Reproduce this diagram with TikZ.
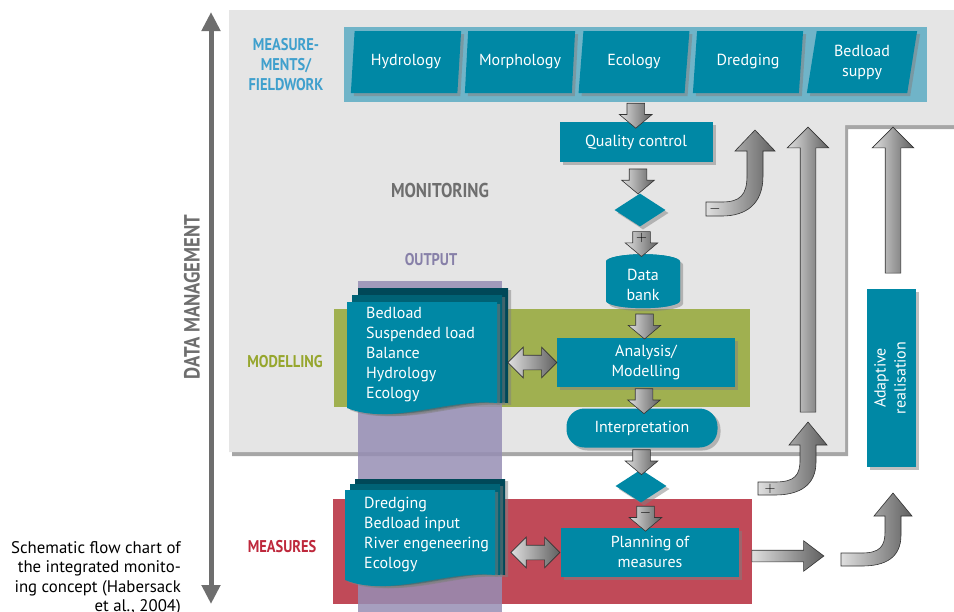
\documentclass[tikz,border=0pt]{standalone}
\usepackage{fontspec}
\setmainfont{PT Sans}
\newfontfamily\headfont{PT Sans}[FakeStretch=0.85]
\usetikzlibrary{shapes.geometric,shapes.arrows,shadows,arrows.meta,calc}

\definecolor{tealbox}{RGB}{0,136,165}
\definecolor{tealband}{RGB}{112,180,200}
\definecolor{panelgray}{RGB}{229,229,229}
\definecolor{greenband}{RGB}{160,176,80}
\definecolor{redband}{RGB}{192,74,88}
\definecolor{purplecol}{RGB}{150,142,180}
\definecolor{fieldblue}{RGB}{64,160,205}
\definecolor{modelgreen}{RGB}{150,166,45}
\definecolor{measred}{RGB}{190,40,60}
\definecolor{outpurple}{RGB}{135,128,168}
\definecolor{dmgray}{RGB}{110,110,110}
\definecolor{pagemid}{RGB}{0,98,117}
\definecolor{pageback}{RGB}{0,72,88}

\tikzset{
  box/.style={fill=tealbox, text=white, font=\fontsize{16}{20}\selectfont, align=center,
    inner sep=0pt, drop shadow={shadow xshift=3pt, shadow yshift=-3pt, opacity=0.5}},
  fieldbox/.style={box, trapezium, trapezium left angle=80, trapezium right angle=100,
    trapezium stretches=true, minimum width=111pt, minimum height=62pt},
  decide/.style={box, diamond, minimum width=51pt, minimum height=33pt},
  lbl/.style={font=\headfont\bfseries\fontsize{17}{20}\selectfont, align=center},
  blockarr/.style={draw=black!80, line width=0.6pt, left color=gray!25, right color=gray!75!black},
  downarr/.style={blockarr, single arrow, shape border rotate=270, inner sep=8.5pt,
    minimum height=22pt, single arrow head extend=7.5pt, single arrow tip angle=100},
  uparr/.style={blockarr, single arrow, shape border rotate=90, inner sep=7.5pt,
    single arrow head extend=13pt},
  botharr/.style={blockarr, double arrow, inner sep=7pt, minimum height=49pt,
    double arrow head extend=8pt},
  pagetext/.style={text=white, font=\fontsize{16}{20}\selectfont, align=left, inner sep=0pt},
  sign/.style={font=\fontsize{15}{15}\selectfont, inner sep=0pt}
}

% one page of a stack: colour, left, top, height
\newcommand{\docpage}[4]{%
  \fill[#1, drop shadow={shadow xshift=3pt, shadow yshift=-2pt, opacity=0.5}]
    (#2,#3) -- (#2+150,#3) -- (#2+150,#3+#4-5)
    .. controls (#2+100,#3+#4-10) and (#2+45,#3+#4+18) .. (#2,#3+#4) -- cycle;}

\begin{document}
\begin{tikzpicture}[x=1pt, y=-1pt]
    \useasboundingbox (0,0) rectangle (954,611);
    \clip (0,0) rectangle (954,611);

    % Background panels
    \fill[panelgray, drop shadow={shadow xshift=3pt, shadow yshift=-4pt, opacity=0.7}]
      (229,10) -- (954,10) -- (954,125) -- (845,125) -- (845,452) -- (229,452) -- cycle;
    \node[fill=tealband, minimum width=583pt, minimum height=75pt, inner sep=0pt] (band) at (635.5,64.5) {};
    \node[fill=greenband, minimum width=416pt, minimum height=98pt, inner sep=0pt] (green) at (542,358) {};
    \node[fill=redband, minimum width=419pt, minimum height=105pt, inner sep=0pt] (red) at (542.5,551.5) {};
    \fill[purplecol, opacity=0.85] (358,281) rectangle (502,620);

    % Data management
    \coordinate (dmtop) at (211,12);
    \coordinate (dmbot) at (211,604);
    \draw[dmgray, line width=5pt, {Triangle[length=19pt,width=18pt]}-{Triangle[length=19pt,width=18pt]}] (dmtop) -- (dmbot);
    \node[lbl, text=dmgray, rotate=90, font=\headfont\bfseries\fontsize{22}{24}\selectfont] (dmlbl) at (192,297) {DATA MANAGEMENT};

    % Caption
    \node[anchor=north east, align=right, inner sep=0pt, font=\fontsize{16.8}{19.5}\selectfont] (caption) at (181,541)
      {Schematic flow chart of\\the integrated monito-\\ing concept (Habersack\\et al., 2004)};

    % Labels
    \node[lbl, text=fieldblue] (fieldlbl) at (286,65) {MEASURE-\\MENTS/\\FIELDWORK};
    \node[lbl, text=dmgray, font=\headfont\bfseries\fontsize{20}{20}\selectfont] (monlbl) at (440,190) {MONITORING};
    \node[lbl, text=outpurple] (outlbl) at (431,260) {OUTPUT};
    \node[lbl, text=modelgreen] (modlbl) at (285,362) {MODELLING};
    \node[lbl, text=measred] (measlbl) at (282,547) {MEASURES};

    % Measurements
    \node[fieldbox] (hydro) at (406,62) {Hydrology};
    \node[fieldbox] (morph) at (520,62) {Morphology};
    \node[fieldbox] (eco) at (634,62) {Ecology};
    \node[fieldbox] (dredge) at (748,62) {Dredging};
    \node[fieldbox] (supply) at (862,62) {Bedload\\suppy};

    % Output pages
    \docpage{pageback}{358}{288}{120}
    \docpage{pagemid}{352}{295}{113}
    \docpage{tealbox}{347}{302}{106}
    \node[pagetext, anchor=west] (out) at (366,355) {Bedload\\Suspended load\\Balance\\Hydrology\\Ecology};
    \coordinate (outedge) at (508,363);

    \docpage{pageback}{355}{479}{101}
    \docpage{pagemid}{350}{484}{96}
    \docpage{tealbox}{345}{490}{90}
    \node[pagetext, anchor=west] (meas) at (364,535) {Dredging\\Bedload input\\River engeneering\\Ecology};
    \coordinate (measedge) at (510,553);

    % Flow
    \node[box, minimum width=153pt, minimum height=40pt] (qc) at (636,142) {Quality control};
    \node[decide] (dia1) at (640,210) {};
    \node[box, cylinder, shape border rotate=90, aspect=0.45, minimum width=74pt, minimum height=50pt,
      cylinder uses custom fill, cylinder body fill=tealbox, cylinder end fill=tealbox!88!black] (bank) at (643,285) {Data\\bank};
    \node[box, minimum width=178pt, minimum height=49pt] (ana) at (646,362) {Analysis/\\Modelling};
    \node[box, rounded corners=18pt, minimum width=151pt, minimum height=39pt] (interp) at (642,428) {Interpretation};
    \node[decide] (dia2) at (641,486) {};
    \node[box, minimum width=178pt, minimum height=49pt] (plan) at (650,552) {Planning of\\measures};
    \node[box, minimum width=49pt, minimum height=178pt] (adapt) at (891.5,378)
      {\rotatebox{90}{\begin{tabular}{@{}c@{}}Adaptive\\realisation\end{tabular}}};

    % Flow arrows
    \node[downarr] (a1) at ($(band.south)!0.5!(qc.north)$) {};
    \node[downarr] (a2) at ($(qc.south)!0.5!(dia1.north)$) {};
    \node[downarr] (a3) at ($(dia1.south)!0.5!(bank.north)$) {};
    \node[downarr] (a4) at ($(bank.south)!0.5!(ana.north)$) {};
    \node[downarr] (a5) at ($(ana.south)!0.5!(interp.north)$) {};
    \node[downarr] (a6) at ($(interp.south)!0.5!(dia2.north)$) {};
    \node[downarr] (a7) at ($(dia2.south)!0.5!(plan.north)$) {};
    \node[sign] at ($(a3)+(0,-2)$) {$+$};
    \node[sign] at ($(a7)+(0,-2)$) {$-$};

    \node[botharr] (b1) at ($(outedge)!0.5!(ana.west)$) {};
    \node[botharr] (b2) at ($(measedge)!0.5!(plan.west)$) {};

    % Feedback arrows
    \node[uparr, minimum height=285pt] (up1) at (808,273.5) {};
    \node[uparr, minimum height=146pt] (up2) at (893,204) {};
    \node[blockarr, single arrow, inner sep=5.5pt, minimum height=72pt,
      single arrow head extend=9.5pt, single arrow tip angle=74] (toright) at (784,556) {};

    \path[blockarr] (706,202) -- (722,202) .. controls (740,202) and (747,195) .. (747,176)
      -- (747,151) -- (735,151) -- (755,130) -- (775,151) -- (763,151) -- (763,176)
      .. controls (763,205) and (745,216) .. (722,216) -- (706,216) -- cycle;
    \node[sign] at (715,209) {$-$};

    \path[blockarr] (758,482) -- (775,482) .. controls (795,482) and (800,475) .. (800,460)
      -- (800,445) -- (789,445) -- (808,422) -- (827,445) -- (816,445) -- (816,462)
      .. controls (816,485) and (800,495) .. (775,495) -- (758,495) -- cycle;
    \node[sign] at (770,489) {$+$};

    \path[blockarr] (841,553) -- (862,553) .. controls (880,553) and (885,546) .. (885,532)
      -- (885,516) -- (874,516) -- (893,493) -- (912,516) -- (901,516) -- (901,535)
      .. controls (901,558) and (885,566) .. (862,566) -- (841,566) -- cycle;
\end{tikzpicture}
\end{document}
